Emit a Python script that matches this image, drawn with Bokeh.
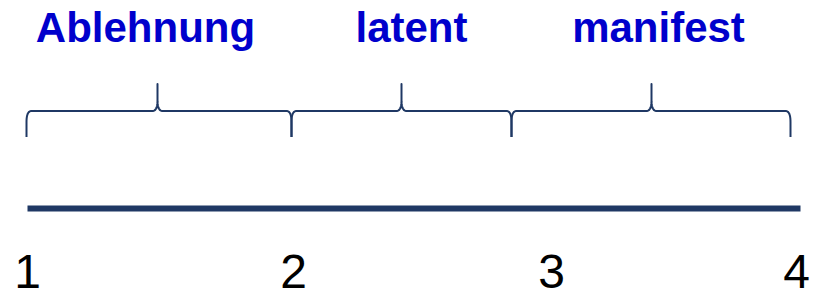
import numpy as np
from bokeh.plotting import figure
from bokeh.models import Range1d, ColumnDataSource
from bokeh.core.properties import value
from bokeh.embed import file_html
from bokeh.resources import INLINE

# ---- data ----
scale_labels = ["1", "2", "3", "4"]
scale_pos = [27, 293, 551, 796]          # horizontal positions of scale points
axis_start, axis_end = 27, 800
category_names = ["Ablehnung", "latent", "manifest"]
category_start = [26, 291, 511]
category_end = [291, 511, 790]
category_tip = [157, 401, 651]
category_label_x = [145, 411, 658]

NAVY = "#1F3864"
BLUE = "#0000CC"

W, H = 815, 290
p = figure(width=W, height=H, output_backend="svg", toolbar_location=None,
           x_range=Range1d(0, W), y_range=Range1d(H, 0),
           x_axis_type=None, y_axis_type=None, min_border=0)
p.grid.visible = False
p.outline_line_color = None
p.background_fill_color = "white"
p.border_fill_color = "white"

# brace geometry
Y_BAR, Y_END, Y_TIP = 110.5, 136.5, 83.5
RX, RY = 5.0, 11.0


def quad(p0, c, p1, n=12):
    t = np.linspace(0, 1, n)[:, None]
    pts = (1 - t) ** 2 * np.array(p0) + 2 * (1 - t) * t * np.array(c) + t ** 2 * np.array(p1)
    return pts


def brace(xa, xb, xt):
    segs = [
        np.array([[xa, Y_END]]),
        quad((xa, Y_BAR + RY), (xa, Y_BAR), (xa + RX, Y_BAR)),
        quad((xt - RX, Y_BAR), (xt, Y_BAR), (xt, Y_BAR - RY)),
        np.array([[xt, Y_TIP]]),
        quad((xt, Y_BAR - RY), (xt, Y_BAR), (xt + RX, Y_BAR)),
        quad((xb - RX, Y_BAR), (xb, Y_BAR), (xb, Y_BAR + RY)),
        np.array([[xb, Y_END]]),
    ]
    pts = np.vstack(segs)
    return list(pts[:, 0]), list(pts[:, 1])


xs, ys = [], []
for a, b, t in zip(category_start, category_end, category_tip):
    bx, by = brace(a, b, t)
    xs.append(bx)
    ys.append(by)
p.multi_line(xs=xs, ys=ys, line_color=NAVY, line_width=2, line_join="round")

# main scale line
p.line(x=[axis_start, axis_end], y=[208, 208], line_color=NAVY, line_width=6, line_cap="butt")

# category labels
src_c = ColumnDataSource(dict(x=category_label_x, y=[27] * 3, t=category_names))
p.text(x="x", y="y", text="t", source=src_c, text_color=BLUE,
       text_font=value("Liberation Sans"), text_font_style="bold",
       text_font_size="42px", text_align="center", text_baseline="alphabetic")

# scale labels
src_s = ColumnDataSource(dict(x=scale_pos, y=[271] * 4, t=scale_labels))
p.text(x="x", y="y", text="t", source=src_s, text_color="black",
       text_font=value("Liberation Sans"), text_font_size="48px",
       text_align="center", text_baseline="alphabetic")

open("out.html", "w").write(file_html(p, INLINE))
